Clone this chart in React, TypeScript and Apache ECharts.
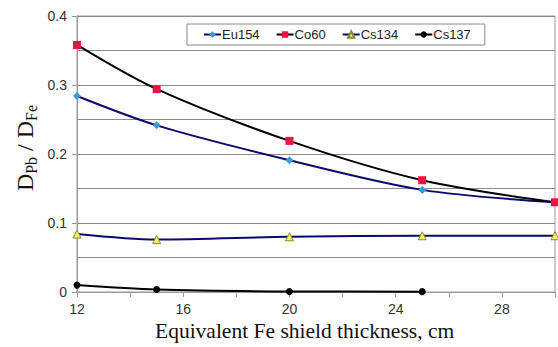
import React, { useEffect, useRef } from "react";
import * as echarts from "echarts";

const thickness = [12, 15, 20, 25, 30];
const eu154 = [0.284, 0.2415, 0.191, 0.148, 0.13];
const co60 = [0.358, 0.294, 0.219, 0.162, 0.13];
const cs134 = [0.084, 0.076, 0.08, 0.0815, 0.0815];
const cs137: (number | null)[] = [0.01, 0.0035, 0.0008, 0.0005, null];
const seriesNames = ["Eu154", "Co60", "Cs134", "Cs137"];

const pairs = (ys: (number | null)[]) => thickness.map((x, i) => [x, ys[i]]);

export default function App() {
  const ref = useRef<HTMLDivElement>(null);
  useEffect(() => {
    if (!ref.current) return;
    const chart = echarts.init(ref.current, null, { renderer: "svg" });
    const font = "'Liberation Sans', Arial, sans-serif";
    const serif = "'Liberation Serif', 'Times New Roman', serif";
    chart.setOption({
      animation: false,
      backgroundColor: "#ffffff",
      grid: {
        left: 77,
        right: 1,
        top: 16,
        bottom: 55,
        show: true,
        borderColor: "#9a9a9a",
        borderWidth: 1,
      },
      legend: {
        data: seriesNames,
        left: 187,
        top: 24,
        padding: [4, 14, 4, 16],
        itemGap: 16,
        itemWidth: 17,
        itemHeight: 8,
        backgroundColor: "#ffffff",
        borderColor: "#8a8a8a",
        borderWidth: 1,
        textStyle: { fontFamily: font, fontSize: 13, color: "#222", padding: [0, 0, 0, -4] },
      },
      xAxis: {
        type: "value",
        min: 12,
        max: 30,
        interval: 2,
        axisLine: { show: true, lineStyle: { color: "#9a9a9a", width: 1 } },
        axisTick: { show: true, length: 5, lineStyle: { color: "#9a9a9a" } },
        axisLabel: {
          fontFamily: font,
          fontSize: 14,
          color: "#333",
          margin: 10,
          formatter: (v: number) => ((v - 12) % 4 === 0 ? String(v) : ""),
        },
        splitLine: { show: false },
      },
      yAxis: {
        type: "value",
        min: 0,
        max: 0.4,
        interval: 0.1,
        axisLine: { show: true, lineStyle: { color: "#9a9a9a", width: 1 } },
        axisTick: { show: true, length: 5, lineStyle: { color: "#9a9a9a" } },
        axisLabel: {
          fontFamily: font,
          fontSize: 14,
          color: "#333",
          margin: 10,
          formatter: (v: number) => (v === 0 ? "0" : v.toFixed(1)),
        },
        splitLine: { show: true, lineStyle: { color: "#8c8c8c", width: 1 } },
        minorTick: { show: false, splitNumber: 2 },
        minorSplitLine: { show: true, lineStyle: { color: "#8c8c8c", width: 1 } },
      },
      graphic: [
        {
          type: "text",
          left: 155,
          top: 320,
          style: {
            text: "Equivalent Fe shield thickness, cm",
            fontFamily: serif,
            fontSize: 21.5,
            fill: "#111",
          },
        },
        {
          type: "text",
          x: 26,
          y: 148,
          rotation: Math.PI / 2,
          style: {
            text: "{d|D}{s|Pb}{d| / D}{s|Fe}",
            align: "center",
            verticalAlign: "middle",
            fill: "#111",
            rich: {
              d: { fontFamily: serif, fontSize: 24, lineHeight: 26, verticalAlign: "top", fill: "#111" },
              s: { fontFamily: serif, fontSize: 16, lineHeight: 16, padding: [14, 0, 0, 0], verticalAlign: "bottom", fill: "#111" },
            },
          },
        },
      ],
      series: [
        {
          name: "Eu154",
          type: "line",
          smooth: 0.3,
          data: pairs(eu154),
          symbol: "diamond",
          symbolSize: 8,
          lineStyle: { color: "#0a0a6e", width: 2 },
          itemStyle: { color: "#3a9ad9" },
          z: 3,
        },
        {
          name: "Co60",
          type: "line",
          smooth: 0.3,
          data: pairs(co60),
          symbol: "rect",
          symbolSize: 8,
          lineStyle: { color: "#000000", width: 2 },
          itemStyle: { color: "#ee1144" },
          z: 4,
        },
        {
          name: "Cs134",
          type: "line",
          smooth: 0.3,
          data: pairs(cs134),
          symbol: "triangle",
          symbolSize: 8,
          lineStyle: { color: "#0a0a6e", width: 2 },
          itemStyle: { color: "#f4f060", borderColor: "#8a8a30", borderWidth: 1 },
          z: 3,
        },
        {
          name: "Cs137",
          type: "line",
          smooth: 0.3,
          data: pairs(cs137),
          symbol: "circle",
          symbolSize: 7,
          lineStyle: { color: "#000000", width: 2 },
          itemStyle: { color: "#000000" },
          z: 3,
        },
      ],
    });
    return () => chart.dispose();
  }, []);
  return <div ref={ref} style={{ width: 558, height: 347, position: "absolute", left: 0, top: 0 }} />;
}
